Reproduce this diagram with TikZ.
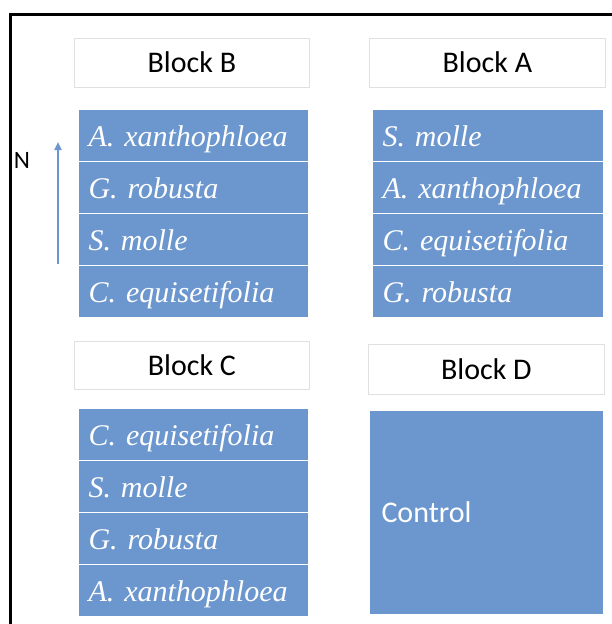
\documentclass[tikz,border=0pt]{standalone}
\usepackage{fontspec}
\newfontfamily\calib{Carlito}
\newfontfamily\tnr{Liberation Serif}
\usetikzlibrary{arrows.meta}
\definecolor{plotblue}{RGB}{108,151,206}
\definecolor{lblgray}{RGB}{224,224,224}
\tikzset{
  species/.style={rectangle, anchor=north west, fill=plotblue, draw=white, line width=1pt,
    minimum height=52pt, inner xsep=10pt, inner ysep=0pt, align=left, text=white,
    font=\tnr\itshape\fontsize{30}{36}\selectfont, text height=28.8pt, text depth=6pt},
  blocklabel/.style={rectangle, anchor=north west, fill=white, draw=lblgray, line width=0.8pt,
    inner sep=0pt, font=\calib\fontsize{30}{36}\selectfont, text height=22.5pt, text depth=3pt},
  ctrlbox/.style={rectangle, anchor=north west, fill=plotblue, draw=white, line width=1pt,
    minimum width=234pt, minimum height=204pt, inner xsep=12pt, inner ysep=0pt, text width=210pt, align=left,
    text=white, font=\calib\fontsize{30}{36}\selectfont, text height=22.5pt, text depth=3pt},
  frameline/.style={line width=3pt, line join=miter, black}
}
\begin{document}
\begin{tikzpicture}[x=1pt, y=-1pt]
\useasboundingbox (0,0) rectangle (612,624);
\fill[white] (0,0) rectangle (612,624);
\draw[frameline] (10,624) -- (10,14) -- (612,14);

% Block B
\node[blocklabel, minimum width=235pt, minimum height=49pt] (labB) at (74,38) {Block B};
\node[species, text width=210pt] (b1) at (78,109) {A. xanthophloea};
\node[species, text width=210pt] (b2) at (78,161) {G. robusta};
\node[species, text width=210pt] (b3) at (78,213) {S. molle};
\node[species, text width=210pt] (b4) at (78,265) {C. equisetifolia};

% Block A
\node[blocklabel, minimum width=236pt, minimum height=49pt] (labA) at (369,38) {Block A};
\node[species, text width=211pt] (a1) at (372,109) {S. molle};
\node[species, text width=211pt] (a2) at (372,161) {A. xanthophloea};
\node[species, text width=211pt] (a3) at (372,213) {C. equisetifolia};
\node[species, text width=211pt] (a4) at (372,265) {G. robusta};

% Block C
\node[blocklabel, minimum width=235pt, minimum height=48pt] (labC) at (74,341) {Block C};
\node[species, text width=210pt] (c1) at (78,408) {C. equisetifolia};
\node[species, text width=210pt] (c2) at (78,460) {S. molle};
\node[species, text width=210pt] (c3) at (78,512) {G. robusta};
\node[species, text width=210pt] (c4) at (78,564) {A. xanthophloea};

% Block D
\node[blocklabel, minimum width=236pt, minimum height=50pt] (labD) at (368,344) {Block D};
\node[ctrlbox] (ctrl) at (369,410) {Control};

% North arrow
\node[font=\calib\fontsize{25}{30}\selectfont, text height=16pt, text depth=0pt, inner sep=0pt] (north) at (22,160) {N};
\coordinate (arrS) at (58,264);
\coordinate (arrE) at (58,142);
\draw[plotblue, line width=2.2pt, -{Triangle[width=7pt,length=8pt]}] (arrS) -- (arrE);
\end{tikzpicture}
\end{document}
